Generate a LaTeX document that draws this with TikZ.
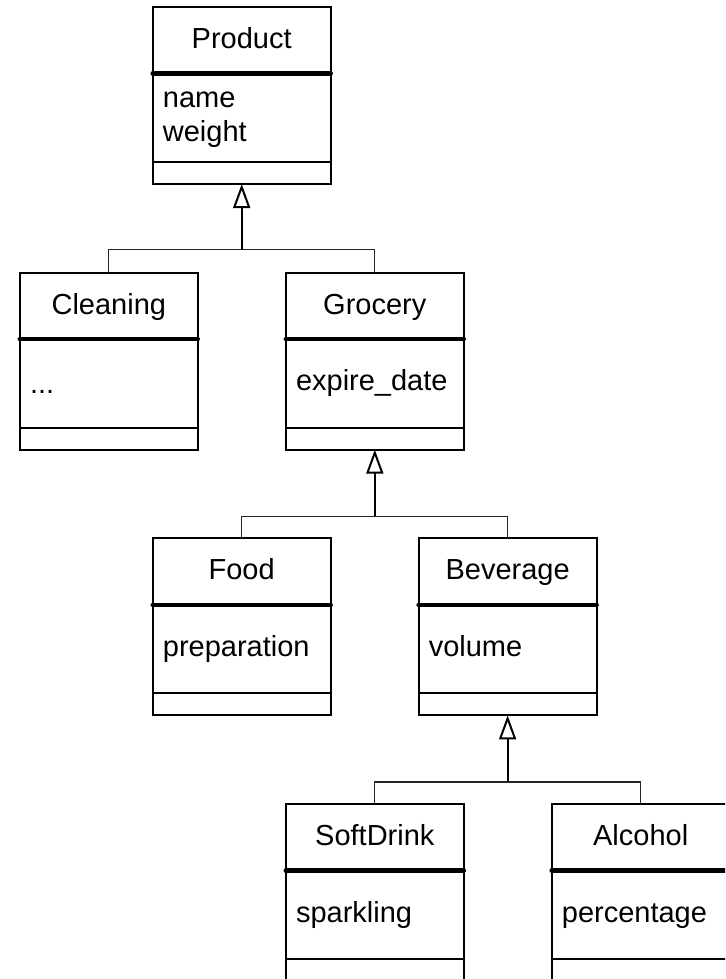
\documentclass[tikz,border=0pt]{standalone}
\usepackage{fontspec}
\setmainfont{Liberation Sans}
\usetikzlibrary{calc,arrows.meta}

\tikzset{
  x=1pt, y=1pt,
  classbox/.style={draw, line width=2pt, minimum width=178pt, minimum height=177pt,
    inner sep=0pt, outer sep=0pt, anchor=north west},
  classtitle/.style={inner sep=0pt, anchor=base, font=\fontsize{29pt}{34pt}\selectfont},
  classattr/.style={inner sep=0pt, anchor=base west, font=\fontsize{29pt}{34pt}\selectfont},
  titlerule/.style={line width=4.5pt, line cap=round},
  oprule/.style={line width=2pt},
  branch/.style={line width=1.2pt, draw=black!85},
  inherit/.style={line width=2pt, -{Triangle[open, length=24pt, width=17pt]}},
}

% one UML class: name, left, top, title
\newcommand\umlclass[4]{%
  \node[classbox] (#1) at (#2,#3) {};
  \node[classtitle] (#1-title) at ($(#1.north)+(0,-41.5)$) {#4};
  \draw[titlerule] ($(#1.north west)+(0,-66.5)$) -- ($(#1.north east)+(0,-66.5)$);
  \draw[oprule] ($(#1.south west)+(0,22)$) -- ($(#1.south east)+(0,22)$);
}

\begin{document}
\begin{tikzpicture}
  \clip (0,0) rectangle (725,-979);

  % classes
  \umlclass{product}{152.7}{-7}{Product}
  \umlclass{cleaning}{19.8}{-272.7}{Cleaning}
  \umlclass{grocery}{285.8}{-272.7}{Grocery}
  \umlclass{food}{152.7}{-538.4}{Food}
  \umlclass{beverage}{418.6}{-538.4}{Beverage}
  \umlclass{softdrink}{285.8}{-804.1}{SoftDrink}
  \umlclass{alcohol}{551.7}{-804.1}{Alcohol}

  % attributes
  \node[classattr] (product-name) at ($(product.north west)+(10,-101)$) {name};
  \node[classattr] (product-weight) at ($(product.north west)+(10,-135)$) {weight};
  \node[classattr] (cleaning-attr) at ($(cleaning.north west)+(10,-121)$) {...};
  \node[classattr] (grocery-attr) at ($(grocery.north west)+(10,-118)$) {expire\_date};
  \node[classattr] (food-attr) at ($(food.north west)+(10,-118)$) {preparation};
  \node[classattr] (beverage-attr) at ($(beverage.north west)+(10,-118)$) {volume};
  \node[classattr] (softdrink-attr) at ($(softdrink.north west)+(10,-118)$) {sparkling};
  \node[classattr] (alcohol-attr) at ($(alcohol.north west)+(10,-118)$) {percentage};

  % generalisation: Product
  \coordinate (bar1) at ($(product.south)+(0,-65.5)$);
  \draw[branch] (cleaning.north) |- (bar1) -| (grocery.north);
  \draw[inherit] (bar1) -- (product.south);

  % generalisation: Grocery
  \coordinate (bar2) at ($(grocery.south)+(0,-66.5)$);
  \draw[branch] (food.north) |- (bar2) -| (beverage.north);
  \draw[inherit] (bar2) -- (grocery.south);

  % generalisation: Beverage
  \coordinate (bar3) at ($(beverage.south)+(0,-66.5)$);
  \draw[branch] (softdrink.north) |- (bar3) -| (alcohol.north);
  \draw[inherit] (bar3) -- (beverage.south);
\end{tikzpicture}
\end{document}
